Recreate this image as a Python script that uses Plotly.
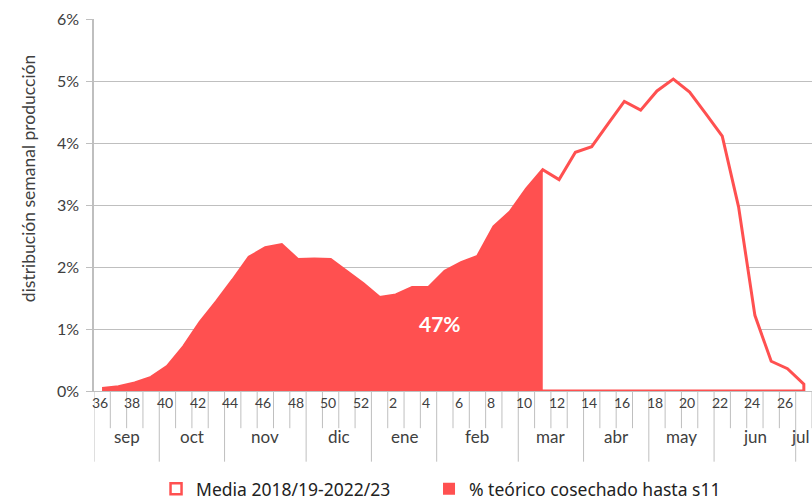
"""Weekly production distribution: average season vs theoretical harvest to week 11."""

import plotly.graph_objects as go

# Season weeks (sep -> jul)
WEEKS = list(range(36, 53)) + list(range(1, 28))
MONTHS = ["sep", "oct", "nov", "dic", "ene", "feb", "mar", "abr", "may", "jun", "jul"]
WEEKS_PER_MONTH = [4, 4, 5, 4, 4, 5, 4, 4, 4, 5, 1]

# Media 2018/19-2022/23, % of season production per week
MEDIA = [
    0.04, 0.07, 0.13, 0.22, 0.40, 0.72, 1.11, 1.44, 1.79, 2.16, 2.31, 2.36,
    2.12, 2.13, 2.12, 1.92, 1.73, 1.51, 1.55, 1.67, 1.67, 1.93, 2.07, 2.17,
    2.65, 2.89, 3.26, 3.57, 3.41, 3.85, 3.94, 4.31, 4.67, 4.53, 4.84, 5.03,
    4.82, 4.47, 4.11, 2.97, 1.22, 0.48, 0.36, 0.11,
]
HARVEST_UNTIL_WEEK = 11
HARVEST_LABEL = "47%"

Y_TICKS = [0, 1, 2, 3, 4, 5, 6]

RED = "#FF5050"
GRID = "#BFBFBF"
TEXT = "#404040"
FONT = "Lato"


def _legend(x):
    """One-item horizontal legend under the chart."""
    return dict(
        orientation="h",
        x=x, xanchor="left",
        y=-0.263, yanchor="middle",
        font=dict(family="Noto Sans", size=17.5, color="#222222"),
    )


def build_figure():
    idx = list(range(len(WEEKS)))
    cut = WEEKS.index(HARVEST_UNTIL_WEEK) + 1

    fig = go.Figure()

    # Media: outlined area (closed path down to zero)
    fig.add_trace(go.Scatter(
        x=idx + idx[::-1],
        y=MEDIA + [0] * len(MEDIA),
        mode="lines",
        fill="toself",
        fillcolor="white",
        line=dict(color=RED, width=3),
        showlegend=False,
        hoverinfo="skip",
    ))

    # Harvested share until s11: filled area
    fig.add_trace(go.Scatter(
        x=idx[:cut],
        y=MEDIA[:cut],
        mode="lines",
        fill="tozeroy",
        fillcolor=RED,
        line=dict(color=RED, width=0.5),
        showlegend=False,
    ))

    # legend entries (square symbols like the original)
    fig.add_trace(go.Scatter(
        x=[None], y=[None], mode="markers", name="Media 2018/19-2022/23",
        marker=dict(symbol="square", size=11, color="white", line=dict(color=RED, width=2.5)),
        legend="legend",
    ))
    fig.add_trace(go.Scatter(
        x=[None], y=[None], mode="markers", name="% teórico cosechado hasta s11",
        marker=dict(symbol="square", size=12, color=RED, line=dict(width=0)),
        legend="legend2",
    ))

    # category tick lines and month separators below the axis
    month_starts = [sum(WEEKS_PER_MONTH[:k]) for k in range(len(WEEKS_PER_MONTH))]
    shapes = []
    for k in range(len(WEEKS) + 1):
        long_line = k in month_starts
        shapes.append(dict(
            type="line", xref="x", yref="paper",
            x0=k - 0.5, x1=k - 0.5, y0=0, y1=-0.19 if long_line else -0.1,
            line=dict(color=GRID, width=1),
        ))

    annotations = []
    # week labels, every other week
    for i, w in enumerate(WEEKS):
        if i % 2 == 0:
            annotations.append(dict(
                x=i - 0.15, y=-0.06, xref="x", yref="paper", text=str(w),
                showarrow=False, font=dict(family=FONT, size=14, color=TEXT),
            ))
    # month labels (last one sits against the right edge)
    for m, start, n in zip(MONTHS, month_starts, WEEKS_PER_MONTH):
        last = m == MONTHS[-1]
        annotations.append(dict(
            x=len(WEEKS) - 0.5 if last else start + (n - 1) / 2,
            xanchor="right" if last else "center",
            y=-0.157, xref="x", yref="paper", text=m,
            showarrow=False, font=dict(family=FONT, size=17, color=TEXT),
        ))
    annotations.append(dict(
        x=20.7, y=1.09, xref="x", yref="y", text=f"<b>{HARVEST_LABEL}</b>",
        showarrow=False, font=dict(family=FONT, size=21, color="white"),
    ))
    annotations.append(dict(
        x=-0.092, y=0.572, xref="paper", yref="paper",
        xanchor="center", yanchor="middle",
        text="distribución semanal producción", textangle=-90,
        showarrow=False, font=dict(family=FONT, size=17.5, color=TEXT),
    ))

    fig.update_layout(
        width=812,
        height=500,
        margin=dict(l=94, r=0, t=19, b=109, autoexpand=False),
        plot_bgcolor="white",
        paper_bgcolor="white",
        font=dict(family=FONT, color=TEXT),
        shapes=shapes,
        annotations=annotations,
        legend=_legend(0.0864),
        legend2=_legend(0.4666),
        xaxis=dict(
            range=[-0.5, len(WEEKS) - 0.5],
            showticklabels=False,
            showgrid=False,
            zeroline=False,
            showline=True,
            linecolor=GRID,
            fixedrange=True,
        ),
        yaxis=dict(
            range=[0, 6],
            tickvals=Y_TICKS,
            ticktext=[f"{v}%" for v in Y_TICKS],
            ticks="outside",
            ticklen=6,
            tickcolor=GRID,
            ticklabelstandoff=4,
            tickfont=dict(family=FONT, size=16, color=TEXT),
            showgrid=True,
            gridcolor=GRID,
            zeroline=False,
            showline=True,
            linecolor=GRID,
            linewidth=1.5,
        ),
    )
    return fig


fig = build_figure()
# drop the default body margin so the 812x500 figure fills the window exactly
fig.write_html(
    "out.html",
    config={"displayModeBar": False},
    post_script="document.body.style.margin='0';document.body.style.overflow='hidden';",
)
